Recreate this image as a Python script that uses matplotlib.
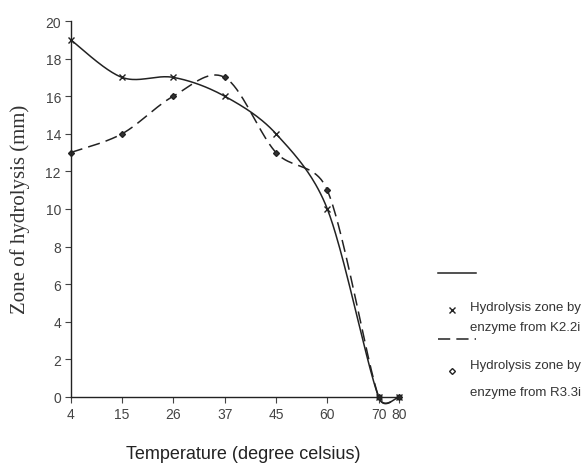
import numpy as np
import matplotlib
matplotlib.use("Agg")
import matplotlib.pyplot as plt
from matplotlib.lines import Line2D

# data
temps = ["4", "15", "26", "37", "45", "60", "70", "80"]
k22i = [19, 17, 17, 16, 14, 10, 0, 0]
r33i = [13, 14, 16, 17, 13, 11, 0, 0]
y_ticks = list(range(0, 21, 2))

# category positions (last category sits close to 70 in the original)
xpos = np.append(np.arange(7, dtype=float), 6.4)

# rough pixel scale of the axes, used so the smoothing behaves like on screen
SX, SY = 51.3, 18.8


def smooth(x, y, n=40):
    # Excel-like smoothed line (Catmull-Rom as cubic Bezier, in screen units)
    P = np.column_stack([np.asarray(x) * SX, np.asarray(y) * SY]).astype(float)
    m = len(P)

    def tangent(i, seg_len):
        a = P[i - 1] if i > 0 else P[i]
        b = P[i + 1] if i + 1 < m else P[i]
        t = (b - a) / 6
        half = np.linalg.norm(b - a) / 2
        f = min(1.0, np.sqrt(seg_len / half)) if half > 0 else 1.0
        return t * f

    out = []
    for i in range(m - 1):
        p1, p2 = P[i], P[i + 1]
        L = np.linalg.norm(p2 - p1)
        c1 = p1 + tangent(i, L)
        c2 = p2 - tangent(i + 1, L)
        t = np.linspace(0, 1, n)[:, None]
        seg = ((1 - t) ** 3 * p1 + 3 * (1 - t) ** 2 * t * c1
               + 3 * (1 - t) * t ** 2 * c2 + t ** 3 * p2)
        out.append(seg if i == 0 else seg[1:])
    out = np.vstack(out)
    return out[:, 0] / SX, out[:, 1] / SY


plt.rcParams['font.family'] = ['Liberation Sans', 'DejaVu Sans']
fig = plt.figure(figsize=(5.86, 4.64), dpi=100)
ax = fig.add_axes([70.7 / 586, 1 - 398 / 464, 328.5 / 586, 376 / 464])

c = "#222222"
sx, sy = smooth(xpos, k22i)
ax.plot(sx, sy, color=c, lw=1.1, clip_on=False)
ax.plot(xpos, k22i, ls="none", marker="x", ms=4, mew=1, color=c, clip_on=False)

sx, sy = smooth(xpos, r33i)
ax.plot(sx, sy, color=c, lw=1.1, ls=(0, (8, 4)), clip_on=False)
ax.plot(xpos, r33i, ls="none", marker="D", ms=3, color=c, mfc="#333333", clip_on=False)

ax.set_xlim(0, 6.4)
ax.set_ylim(0, 20)
ax.set_xticks(xpos)
ax.set_xticklabels(temps)
ax.set_yticks(y_ticks)
ax.tick_params(labelsize=10, colors="#444444", length=4, width=0.8, pad=3)
for s in ["top", "right"]:
    ax.spines[s].set_visible(False)
for s in ["left", "bottom"]:
    ax.spines[s].set_color(c)
    ax.spines[s].set_linewidth(1.0)

fig.text(20 / 586, 1 - 209 / 464, "Zone of hydrolysis (mm)", rotation=90,
         ha="center", va="center", fontsize=15, family="Liberation Serif", color="#333333")
fig.text(243 / 586, 1 - 455 / 464, "Temperature (degree celsius)",
         ha="center", va="center", fontsize=13, color="#222222")

# legend, laid out like the original
def fx(px):
    return px / 586


def fy(py):
    return 1 - py / 464


fig.add_artist(Line2D([fx(438), fx(476)], [fy(274), fy(274)], color=c, lw=1.1))
fig.add_artist(Line2D([fx(452)], [fy(311)], marker="x", ms=4, mew=1, color=c, ls="none"))
fig.text(fx(470), fy(308), "Hydrolysis zone by", fontsize=9.5, va="center", color="#333333")
fig.text(fx(470), fy(328), "enzyme from K2.2i", fontsize=9.5, va="center", color="#333333")
fig.add_artist(Line2D([fx(438), fx(476)], [fy(340), fy(340)], color=c, lw=1.1, ls=(0, (8, 4))))
fig.add_artist(Line2D([fx(452)], [fy(372)], marker="D", ms=3, color=c, mfc="white", ls="none"))
fig.text(fx(470), fy(366), "Hydrolysis zone by", fontsize=9.5, va="center", color="#333333")
fig.text(fx(470), fy(393), "enzyme from R3.3i", fontsize=9.5, va="center", color="#333333")

fig.savefig("out.png", dpi=100)
